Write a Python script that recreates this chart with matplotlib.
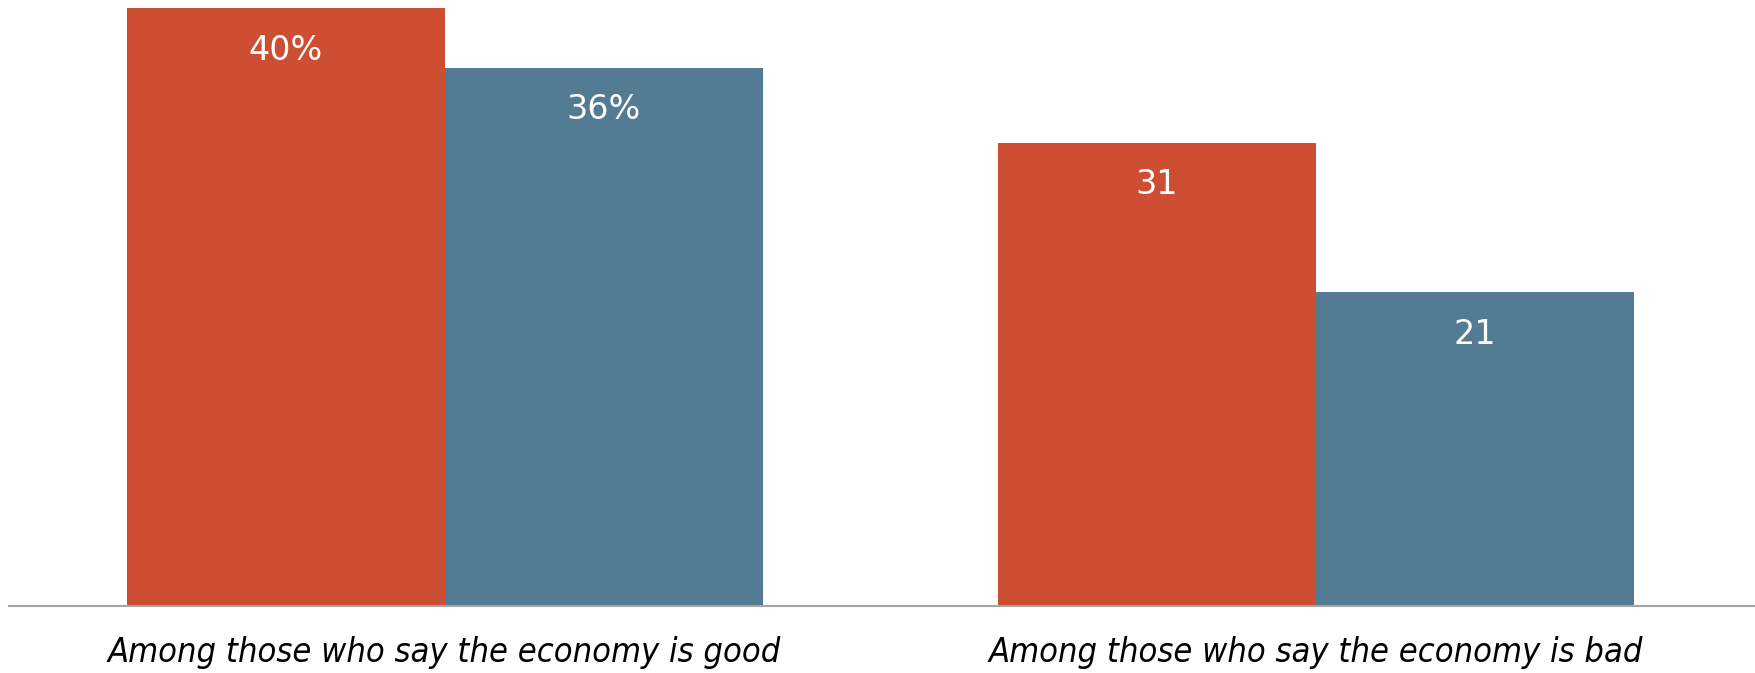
import matplotlib
matplotlib.use("Agg")
import matplotlib.pyplot as plt

categories = ["Among those who say the economy is good", "Among those who say the economy is bad"]
series_a = [40, 31]
series_b = [36, 21]
labels_a = ["40%", "31"]
labels_b = ["36%", "21"]

W, H = 1756, 673
fig = plt.figure(figsize=(W / 100, H / 100), dpi=100)
ax = fig.add_axes([9 / W, 67 / H, 1 - 9 / W, (673 - 67 - 8) / H])

red = "#CD4E32"
blue = "#537B94"
w = 0.365
x = list(range(len(categories)))
ba = ax.bar([i - w / 2 for i in x], series_a, width=w, color=red)
bb = ax.bar([i + w / 2 for i in x], series_b, width=w, color=blue)

for bars, labs in ((ba, labels_a), (bb, labels_b)):
    for r, lab in zip(bars, labs):
        ax.annotate(lab, (r.get_x() + r.get_width() / 2, r.get_height()),
                    xytext=(0, -42), textcoords="offset pixels",
                    ha="center", va="center", color="white",
                    fontsize=24, fontstretch="semi-condensed")

ax.set_xlim(-0.5, 1.505)
ax.set_ylim(0, 40)
ax.set_xticks(x)
ax.set_xticklabels(categories, fontsize=24.7, style="italic", fontstretch="condensed")
ax.tick_params(axis="x", length=0, pad=21.5)
ax.set_yticks([])
for s in ["top", "left", "right"]:
    ax.spines[s].set_visible(False)
ax.spines["bottom"].set_color("#A6A6A6")
ax.spines["bottom"].set_linewidth(1.5)
ax.set_facecolor("white")
fig.savefig("out.png", dpi=100, facecolor="white")
